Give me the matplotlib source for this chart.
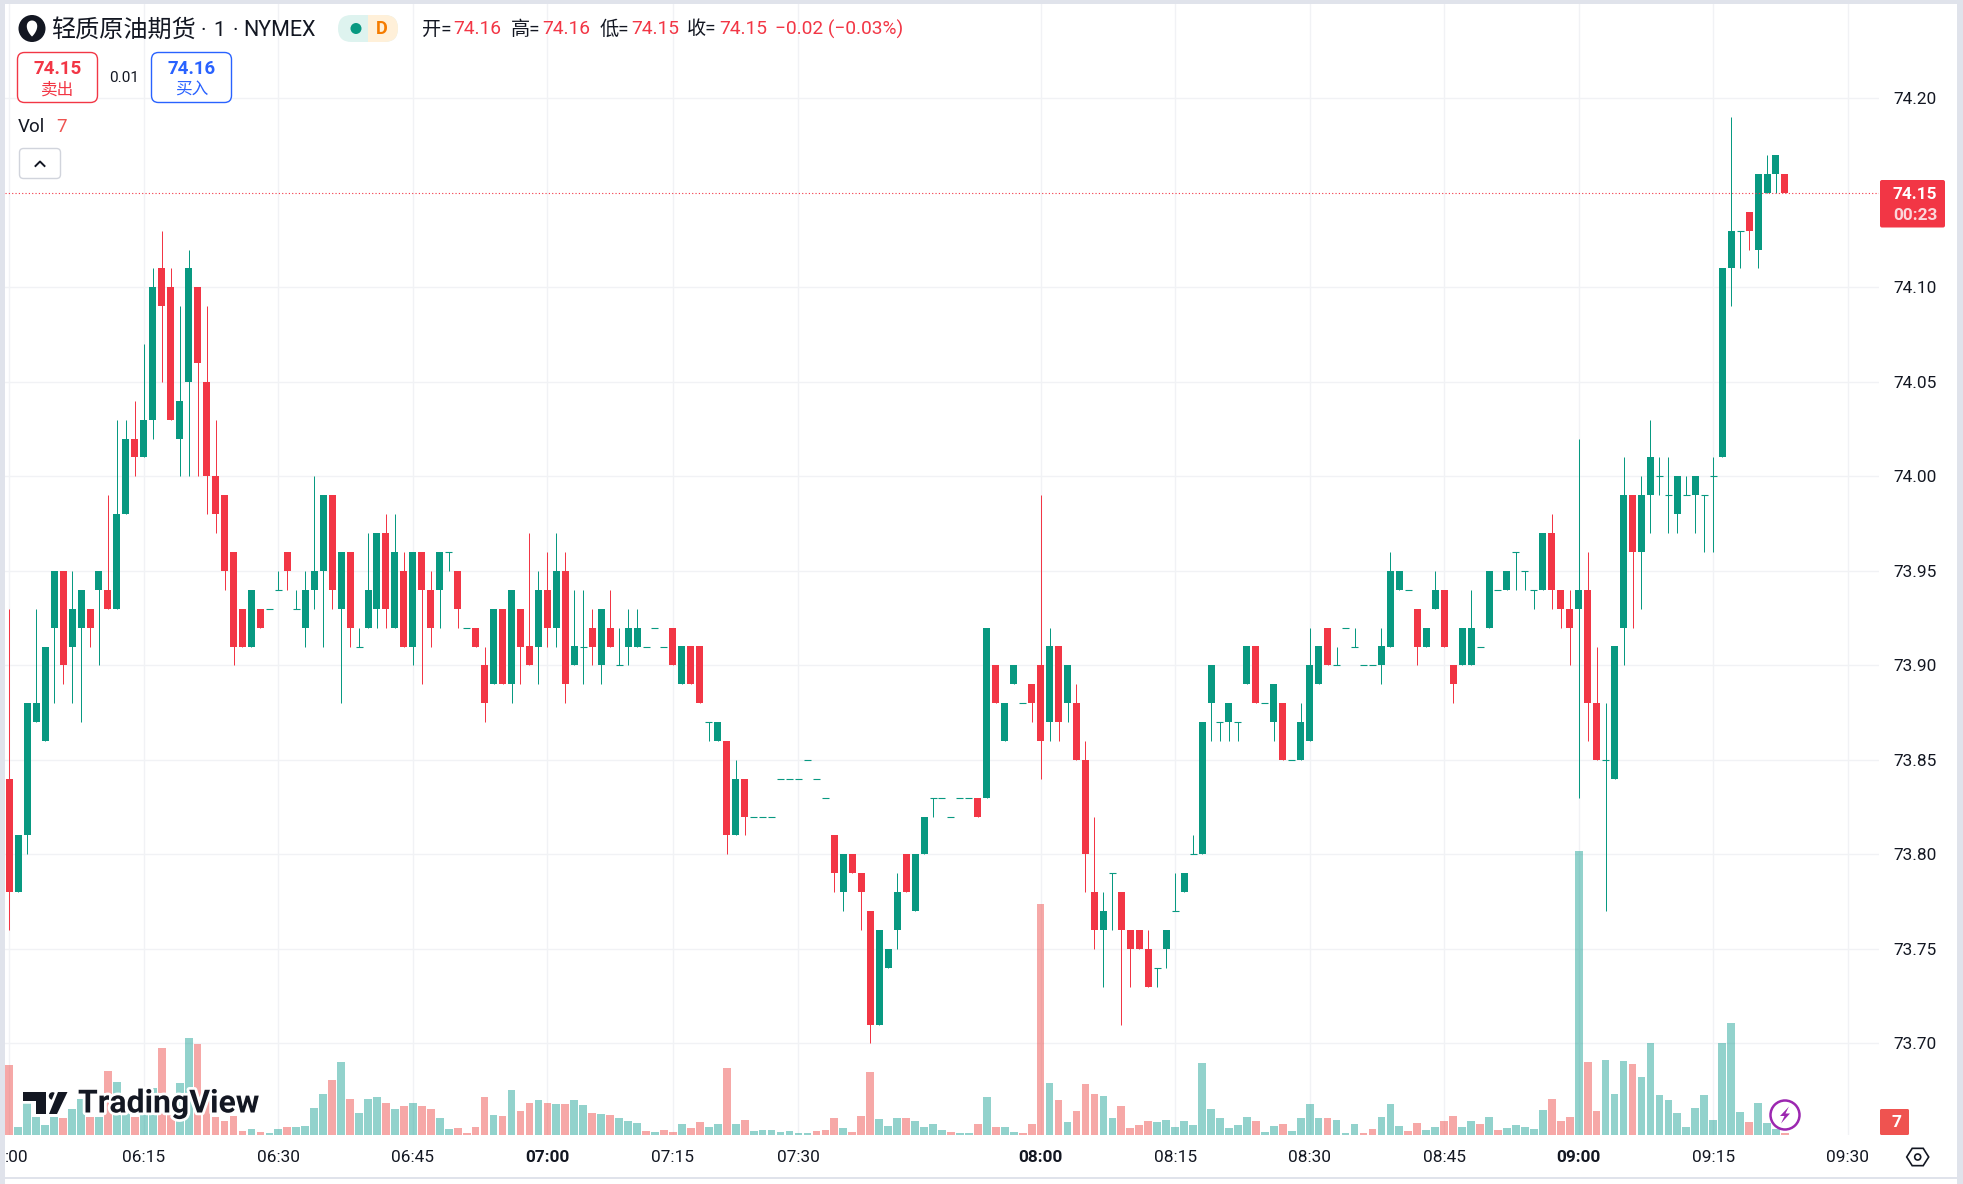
import numpy as np
import matplotlib
matplotlib.use('Agg')
import matplotlib.pyplot as plt
from matplotlib.patches import Rectangle, FancyBboxPatch, Circle, Polygon
import matplotlib.patheffects as pe

W, H = 1963, 1184

# one minute bars, in screen order
opens = [73.84,73.78,73.81,73.87,73.86,73.92,73.95,73.91,73.92,73.93,
         73.94,73.94,73.93,73.98,74.02,74.01,74.03,74.11,74.10,74.02,
         74.05,74.10,74.05,74.00,73.99,73.96,73.93,73.91,73.93,73.93,
         73.94,73.96,73.93,73.92,73.94,73.95,73.99,73.93,73.96,73.91,
         73.92,73.93,73.97,73.92,73.95,73.91,73.96,73.94,73.94,73.96,
         73.95,73.92,73.92,73.90,73.89,73.93,73.89,73.93,73.91,73.91,
         73.94,73.92,73.95,73.90,73.91,73.92,73.90,73.92,73.90,73.91,
         73.91,73.91,73.92,73.91,73.92,73.89,73.91,73.91,73.87,73.86,
         73.86,73.81,73.84,73.82,73.82,73.82,73.84,73.84,73.84,73.85,
         73.84,73.83,73.81,73.78,73.80,73.79,73.77,73.71,73.74,73.76,
         73.80,73.77,73.80,73.83,73.83,73.82,73.83,73.83,73.83,73.83,
         73.90,73.86,73.89,73.88,73.89,73.90,73.87,73.91,73.88,73.88,
         73.85,73.78,73.76,73.79,73.78,73.76,73.76,73.75,73.74,73.75,
         73.77,73.78,73.80,73.80,73.88,73.87,73.87,73.87,73.89,73.91,
         73.88,73.87,73.88,73.85,73.85,73.86,73.89,73.92,73.90,73.92,
         73.91,73.90,73.90,73.90,73.91,73.94,73.94,73.93,73.91,73.93,
         73.94,73.90,73.90,73.90,73.91,73.92,73.94,73.94,73.96,73.95,
         73.94,73.94,73.97,73.94,73.93,73.93,73.94,73.88,73.85,73.84,
         73.92,73.99,73.96,73.99,74.00,73.99,73.98,73.99,73.99,73.99,
         74.00,74.01,74.11,74.13,74.14,74.12,74.15,74.16,74.16]
highs = [73.93,73.81,73.88,73.93,73.91,73.95,73.95,73.95,73.94,73.93,
         73.95,73.99,74.03,74.03,74.04,74.07,74.11,74.13,74.11,74.09,
         74.12,74.10,74.09,74.03,73.99,73.96,73.93,73.94,73.93,73.93,
         73.95,73.96,73.94,73.95,74.00,73.99,73.99,73.96,73.96,73.92,
         73.97,73.97,73.98,73.98,73.96,73.96,73.96,73.95,73.96,73.96,
         73.95,73.92,73.92,73.91,73.93,73.93,73.94,73.93,73.97,73.95,
         73.96,73.97,73.96,73.94,73.94,73.93,73.93,73.94,73.92,73.93,
         73.93,73.91,73.92,73.91,73.92,73.91,73.91,73.91,73.87,73.87,
         73.86,73.85,73.84,73.82,73.82,73.82,73.84,73.84,73.84,73.85,
         73.84,73.83,73.81,73.80,73.80,73.79,73.77,73.76,73.75,73.79,
         73.80,73.80,73.82,73.83,73.83,73.82,73.83,73.83,73.83,73.92,
         73.90,73.88,73.90,73.88,73.89,73.99,73.92,73.91,73.90,73.89,
         73.86,73.82,73.78,73.79,73.78,73.76,73.76,73.76,73.74,73.76,
         73.79,73.79,73.81,73.87,73.90,73.87,73.88,73.87,73.91,73.91,
         73.88,73.89,73.88,73.85,73.88,73.92,73.91,73.92,73.91,73.92,
         73.92,73.90,73.90,73.92,73.96,73.95,73.94,73.93,73.92,73.95,
         73.94,73.90,73.92,73.94,73.91,73.95,73.94,73.95,73.96,73.95,
         73.94,73.97,73.98,73.94,73.94,74.02,73.96,73.91,73.88,73.91,
         74.01,73.99,74.00,74.03,74.01,74.01,74.00,74.00,74.00,73.99,
         74.01,74.11,74.19,74.13,74.14,74.16,74.17,74.17,74.16]
lows = [73.76,73.78,73.80,73.87,73.86,73.88,73.89,73.88,73.87,73.91,
        73.90,73.93,73.93,73.98,74.00,74.01,74.02,74.05,74.03,74.00,
        74.00,74.00,73.98,73.97,73.94,73.90,73.91,73.91,73.92,73.93,
        73.94,73.94,73.93,73.91,73.93,73.91,73.93,73.88,73.91,73.91,
        73.92,73.92,73.92,73.92,73.91,73.90,73.89,73.91,73.92,73.95,
        73.92,73.92,73.91,73.87,73.89,73.89,73.88,73.89,73.90,73.89,
        73.91,73.91,73.88,73.90,73.89,73.90,73.89,73.91,73.90,73.90,
        73.91,73.91,73.92,73.91,73.90,73.89,73.89,73.88,73.86,73.86,
        73.80,73.81,73.81,73.82,73.82,73.82,73.84,73.84,73.84,73.85,
        73.84,73.83,73.78,73.77,73.79,73.76,73.70,73.71,73.74,73.75,
        73.78,73.77,73.80,73.82,73.83,73.82,73.83,73.83,73.82,73.83,
        73.88,73.86,73.89,73.88,73.87,73.84,73.86,73.86,73.87,73.85,
        73.78,73.75,73.73,73.76,73.71,73.73,73.75,73.73,73.73,73.74,
        73.77,73.78,73.80,73.80,73.86,73.86,73.86,73.86,73.89,73.88,
        73.88,73.86,73.85,73.85,73.85,73.86,73.89,73.90,73.90,73.92,
        73.91,73.90,73.90,73.89,73.91,73.94,73.94,73.90,73.91,73.93,
        73.91,73.88,73.90,73.90,73.91,73.92,73.94,73.94,73.94,73.94,
        73.93,73.94,73.93,73.92,73.90,73.83,73.86,73.85,73.77,73.84,
        73.90,73.92,73.93,73.97,73.99,73.97,73.97,73.99,73.97,73.96,
        73.96,74.01,74.09,74.11,74.12,74.11,74.15,74.15,74.15]
closes = [73.78,73.81,73.88,73.88,73.91,73.95,73.90,73.93,73.94,73.92,
          73.95,73.93,73.98,74.02,74.01,74.03,74.10,74.09,74.03,74.04,
          74.11,74.06,74.00,73.98,73.95,73.91,73.91,73.94,73.92,73.93,
          73.94,73.95,73.93,73.94,73.95,73.99,73.94,73.96,73.92,73.91,
          73.94,73.97,73.93,73.96,73.91,73.96,73.94,73.92,73.96,73.96,
          73.93,73.92,73.91,73.88,73.93,73.89,73.94,73.91,73.90,73.94,
          73.92,73.95,73.89,73.91,73.91,73.91,73.93,73.91,73.90,73.92,
          73.92,73.91,73.92,73.91,73.90,73.91,73.89,73.88,73.87,73.87,
          73.81,73.84,73.82,73.82,73.82,73.82,73.84,73.84,73.84,73.85,
          73.84,73.83,73.79,73.80,73.79,73.78,73.71,73.76,73.75,73.78,
          73.78,73.80,73.82,73.83,73.83,73.82,73.83,73.83,73.82,73.92,
          73.88,73.88,73.90,73.88,73.88,73.86,73.91,73.87,73.90,73.85,
          73.80,73.76,73.77,73.79,73.76,73.75,73.75,73.73,73.74,73.76,
          73.77,73.79,73.80,73.87,73.90,73.87,73.88,73.87,73.91,73.88,
          73.88,73.89,73.85,73.85,73.87,73.90,73.91,73.90,73.90,73.92,
          73.91,73.90,73.90,73.91,73.95,73.95,73.94,73.91,73.92,73.94,
          73.91,73.89,73.92,73.92,73.91,73.95,73.94,73.95,73.96,73.95,
          73.94,73.97,73.94,73.93,73.92,73.94,73.88,73.85,73.85,73.91,
          73.99,73.96,73.99,74.01,74.00,73.99,74.00,73.99,74.00,73.99,
          74.00,74.11,74.13,74.13,74.13,74.16,74.16,74.17,74.15]
volumes = [210,24,95,54,30,54,51,78,108,54,
           54,192,159,100,54,105,141,261,60,156,
           291,273,141,54,42,57,12,18,9,6,
           18,24,24,27,81,123,165,219,108,66,
           108,114,96,78,87,96,87,78,51,18,
           21,6,24,114,60,57,135,72,96,105,
           96,93,93,105,90,66,63,60,51,42,
           36,12,9,15,9,33,21,39,24,33,
           201,33,45,12,15,15,9,12,6,6,
           12,15,51,21,9,57,189,48,27,51,
           51,42,24,33,15,9,6,6,33,114,
           24,24,9,6,33,693,156,105,39,72,
           153,123,117,51,87,21,30,42,39,45,
           24,42,30,216,78,51,21,30,54,42,
           9,27,33,12,51,93,51,51,45,6,
           33,6,18,54,93,27,12,36,15,24,
           42,57,24,42,33,54,15,21,30,24,
           18,75,108,42,54,852,219,72,225,123,
           222,213,174,276,120,105,66,24,81,120,
           45,276,336,69,39,96,36,18,7]
# r / g of each volume bar, ten per string
vol_sides = list('rgggggrggr' 'grggrggrrg' 'grrrrrrgrg' 'grggggrgrg'
                 'ggrgrgrrgg' 'rrrrgrgrrg' 'rgrggrgrgg' 'grgrrgrrgg'
                 'rgrggggggg' 'rrrgrrrggg' 'rggggrggrg' 'rggrrrgrgr'
                 'rrggrrrrgg' 'gggggggggr' 'ggrggggrgg' 'grrgggrrgg'
                 'rrggrgrggg' 'ggrrrgrrgg' 'grgggggggg' 'ggggrgggr')

grid_idx = [0,15,30,45,60,74,88,115,130,145,160,175,190,205]
time_labels = ['',"06:15","06:30","06:45","07:00","07:15","07:30","08:00","08:15","08:30","08:45","09:00","09:15","09:30"]
bold_labels = ["07:00","08:00","09:00"]
price_ticks = [73.70,73.75,73.80,73.85,73.90,73.95,74.00,74.05,74.10,74.20]
last_price = 74.15

UP = '#089981'
DOWN = '#F23645'
VOL_UP = '#26a69a'
VOL_DOWN = '#ef5350'
GRID = '#f1f2f5'
TXT = '#131722'
OUTER = '#e0e3eb'

latin = ['Roboto', 'Noto Sans CJK SC']
cjk = ['Noto Sans CJK SC', 'Roboto']
plt.rcParams['font.family'] = latin

fig = plt.figure(figsize=(W/100, H/100), dpi=100, facecolor='white')

# pixel geometry of the pane
left, right, top, bottom = 5, 1879, 4, 1135
step = 8.968
x0 = 9.3
y74 = 476.4
px_per_unit = 1890.0

rect = [left/W, 1-bottom/H, (right-left)/W, (bottom-top)/H]
vol_ax = fig.add_axes(rect, zorder=1)
ax = fig.add_axes(rect, zorder=2)
ax.patch.set_alpha(0)

xlim = ((left-x0)/step, (right-x0)/step)
ylim = (74-(bottom-y74)/px_per_unit, 74+(y74-top)/px_per_unit)

# volume sits at the bottom, in its own scale
xs = np.arange(len(opens))
vol_cols = [VOL_UP if s == 'g' else VOL_DOWN for s in vol_sides]
vol_ax.bar(xs, volumes, width=0.86, color=vol_cols, alpha=0.5, linewidth=0)
vol_ax.set_xlim(xlim)
vol_ax.set_ylim(0, (bottom-top)*3)
vol_ax.set_xticks(grid_idx)
vol_ax.set_xticklabels([])
vol_ax.set_yticks([])
vol_ax.grid(axis='x', color=GRID, linewidth=1.0)
vol_ax.tick_params(length=0)
vol_ax.set_axisbelow(True)
for s in vol_ax.spines.values():
    s.set_visible(False)

o = np.array(opens)
h = np.array(highs)
l = np.array(lows)
c = np.array(closes)
cols = np.where(c >= o, UP, DOWN)

ax.vlines(xs, l, h, colors=cols, linewidth=0.72)
flat = c == o
ax.hlines(c[flat], xs[flat]-0.39, xs[flat]+0.39, colors=cols[flat], linewidth=0.8)
ax.bar(xs[~flat], np.abs(c-o)[~flat], bottom=np.minimum(o, c)[~flat], width=0.78,
       color=cols[~flat], linewidth=0)

ax.axhline(last_price, color=DOWN, linewidth=0.8, linestyle=(0, (1, 2)))

ax.set_xlim(xlim)
ax.set_ylim(ylim)
ax.set_yticks(price_ticks)
ax.set_yticklabels(['%.2f' % p for p in price_ticks])
ax.yaxis.tick_right()
ax.set_xticks(grid_idx)
ax.set_xticklabels(time_labels)
ax.tick_params(length=0, labelsize=12.4, labelcolor=TXT)
ax.tick_params(axis='y', pad=10)
ax.tick_params(axis='x', pad=10.5)
for t in ax.get_xticklabels():
    if t.get_text() in bold_labels:
        t.set_fontweight('bold')
for s in ax.spines.values():
    s.set_visible(False)
for p in price_ticks:
    vol_ax.axhline((p-ylim[0])/(ylim[1]-ylim[0])*(bottom-top)*3, color=GRID, linewidth=1.0, zorder=0.5)

# everything around the chart is drawn in pixel coordinates
ui = fig.add_axes([0, 0, 1, 1], zorder=3)
ui.set_xlim(0, W)
ui.set_ylim(H, 0)
ui.axis('off')
ui.patch.set_alpha(0)

ui.add_patch(Rectangle((0, 0), 5, H, color=OUTER, lw=0))
ui.add_patch(Rectangle((0, 0), W, 4, color=OUTER, lw=0))
ui.add_patch(Rectangle((1957, 0), 6, H, color=OUTER, lw=0))
ui.add_patch(Rectangle((0, 1177), W, 2, color=OUTER, lw=0))

# title row
ui.add_patch(Circle((32, 28.5), 13.5, color=TXT, lw=0))
drop_t = np.linspace(0, 2*np.pi, 60)
ui.add_patch(Polygon(np.c_[32+6.5*np.sin(drop_t)*np.sin(drop_t/2)**0.8, 36.5-8*(1-np.cos(drop_t))],
                     color='white', lw=0))
ui.text(51, 29.5, '轻质原油期货', fontsize=17.4, color=TXT, va='center', ha='left', family=cjk)
ui.text(203, 30, '·', fontsize=15, color=TXT, va='center', ha='center')
ui.text(219, 30, '1', fontsize=15, color=TXT, va='center', ha='center')
ui.text(235, 30, '·', fontsize=15, color=TXT, va='center', ha='center')
ui.text(243.5, 30, 'NYMEX', fontsize=15.5, color=TXT, va='center', ha='left')

pill_l = FancyBboxPatch((338, 15), 60, 27, boxstyle='round,pad=0,rounding_size=13.5', fc='#def3ef', lw=0)
ui.add_patch(pill_l)
pill_r = FancyBboxPatch((338, 15), 60, 27, boxstyle='round,pad=0,rounding_size=13.5', fc='#fff0d9', lw=0)
ui.add_patch(pill_r)
pill_r.set_clip_path(Rectangle((368, 0), 40, 60, transform=ui.transData))
ui.add_patch(Circle((356, 28.5), 5.5, color=UP, lw=0))
ui.text(382, 29.5, 'D', fontsize=13, color='#f57c00', va='center', ha='center', fontweight='bold')

ohlc_x = [422, 453, 511, 542, 600, 631, 687, 719, 775]
ohlc_s = ['开=', '74.16', '高=', '74.16', '低=', '74.15', '收=', '74.15', '−0.02 (−0.03%)']
for i in range(len(ohlc_s)):
    col = TXT if ohlc_s[i].endswith('=') else DOWN
    ui.text(ohlc_x[i], 29.5, ohlc_s[i], fontsize=13.8, color=col, va='center', ha='left', family=latin)

# sell / buy boxes
ui.add_patch(FancyBboxPatch((17.5, 52.5), 80, 50, boxstyle='round,pad=0,rounding_size=7', fc='white', ec=DOWN, lw=1))
ui.text(57.5, 69.5, '74.15', fontsize=13.5, color=DOWN, fontweight='bold', ha='center', va='center')
ui.text(57.5, 90, '卖出', fontsize=12, color=DOWN, ha='center', va='center', family=cjk)
ui.text(124, 77.5, '0.01', fontsize=11, color=TXT, ha='center', va='center')
ui.add_patch(FancyBboxPatch((151.5, 52.5), 80, 50, boxstyle='round,pad=0,rounding_size=7', fc='white', ec='#2962ff', lw=1))
ui.text(192, 69.5, '74.16', fontsize=13.5, color='#2962ff', fontweight='bold', ha='center', va='center')
ui.text(192, 90, '买入', fontsize=12, color='#2962ff', ha='center', va='center', family=cjk)

ui.text(18, 127.5, 'Vol', fontsize=13.5, color=TXT, ha='left', va='center')
ui.text(56, 127.5, '7', fontsize=13.5, color=VOL_DOWN, ha='left', va='center')
ui.add_patch(FancyBboxPatch((19.5, 148.5), 41, 30, boxstyle='round,pad=0,rounding_size=4', fc='white', ec='#d1d4dc', lw=1))
ui.plot([35.5, 40, 44.5], [166, 161.5, 166], color=TXT, lw=1.4)

# last price and volume tags
ui.add_patch(FancyBboxPatch((1880, 180), 65, 47.5, boxstyle='round,pad=0,rounding_size=2', fc=DOWN, lw=0))
ui.text(1915, 194.5, '74.15', fontsize=12.4, color='white', fontweight='bold', ha='center', va='center')
ui.text(1915, 215, '00:23', fontsize=12.4, color='#fbd7da', fontweight='bold', ha='center', va='center')
ui.add_patch(FancyBboxPatch((1880, 1109), 29, 26, boxstyle='round,pad=0,rounding_size=1.5', fc=VOL_DOWN, lw=0))
ui.text(1897, 1122.5, '7', fontsize=12.5, color='white', fontweight='bold', ha='center', va='center')

ui.text(5, 1158, ':00', fontsize=12.4, color=TXT, ha='left', va='center')

# logo
logo = dict(color=TXT, lw=0, zorder=5, path_effects=[pe.withStroke(linewidth=4, foreground='white')])
ui.add_patch(Polygon([(23, 1092), (46, 1092), (46, 1114), (36, 1114), (36, 1101), (23, 1101)], **logo))
ui.add_patch(Circle((52.6, 1096), 3.8, **logo))
ui.add_patch(Polygon([(58, 1092), (67.5, 1092), (57, 1114), (49, 1114)], **logo))
ui.text(78, 1103.5, 'TradingView', fontsize=23, fontweight='bold', family='Roboto', color=TXT, ha='left', va='center',
        zorder=5, path_effects=[pe.withStroke(linewidth=4, foreground='white')])

# lightning badge
ui.add_patch(Circle((1785, 1115), 14.5, fc='white', ec='#9c27b0', lw=1.8, zorder=6))
ui.add_patch(Polygon([(1789, 1106.5), (1780, 1116), (1784.5, 1116), (1781, 1123.5), (1790, 1113.5), (1785.5, 1113.5)],
                     color='#9c27b0', lw=0, zorder=7))

# settings hexagon
hex_a = np.radians([0, 60, 120, 180, 240, 300])
ui.add_patch(Polygon(np.c_[1917.7+11*np.cos(hex_a), 1157+10*np.sin(hex_a)], fc='white', ec=TXT, lw=1.2))
ui.add_patch(Circle((1917.7, 1157), 3, fc='white', ec=TXT, lw=1.2))

fig.savefig('out.png', dpi=100)
